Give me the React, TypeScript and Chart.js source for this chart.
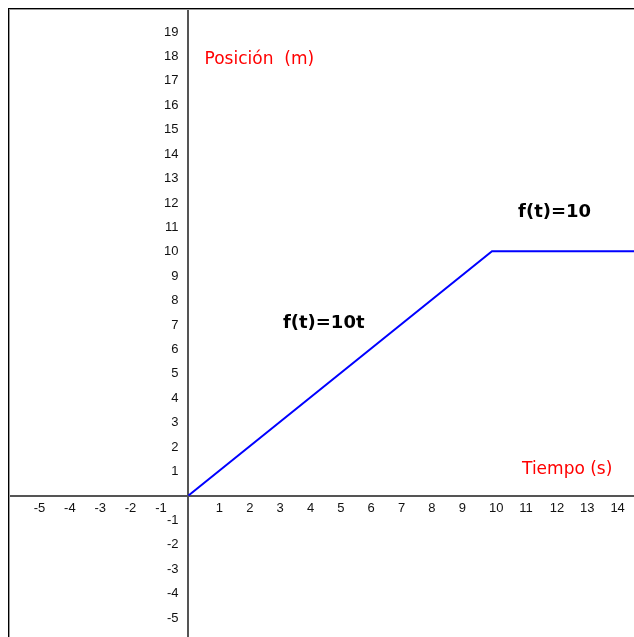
import React, { useEffect, useRef } from "react";
import { Chart, registerables } from "chart.js";

Chart.register(...registerables);

// Data
const tValues = [0, 10, 15];
const posValues = [0, 10, 10];
const xTickLabels = [-5, -4, -3, -2, -1, 1, 2, 3, 4, 5, 6, 7, 8, 9, 10, 11, 12, 13, 14];
const yTickLabels = [-5, -4, -3, -2, -1, 1, 2, 3, 4, 5, 6, 7, 8, 9, 10, 11, 12, 13, 14, 15, 16, 17, 18, 19];
const labelTexts = ["Posición  (m)", "Tiempo (s)", "f(t)=10t", "f(t)=10"];
const labelX = [0.53, 10.99, 3.11, 10.86];
const labelY = [17.67, 0.88, 7.06, 11.61];

const X_MIN = -5.947;
const X_MAX = 14.679;
const Y_MIN = -5.794;
const Y_MAX = 19.963;

const axesPlugin = {
  id: "geoAxes",
  beforeDatasetsDraw(chart: any) {
    const { ctx, scales, width, height } = chart;
    const xs = scales.x;
    const ys = scales.y;
    const x0 = xs.getPixelForValue(0);
    const y0 = ys.getPixelForValue(0);
    ctx.save();
    ctx.fillStyle = "#555555";
    ctx.fillRect(0, Math.round(y0) - 1, width, 2);
    ctx.fillRect(Math.round(x0) - 1, 0, 2, height);

    ctx.font = "13px 'Liberation Sans', Arial, sans-serif";
    ctx.fillStyle = "#111111";
    ctx.textBaseline = "middle";
    ctx.textAlign = "left";
    xTickLabels.forEach((v) => {
      const px = xs.getPixelForValue(v);
      ctx.fillText(String(v), px - 3, y0 + 12.5);
    });
    ctx.textAlign = "right";
    yTickLabels.forEach((v) => {
      const py = ys.getPixelForValue(v);
      ctx.fillText(String(v), x0 - 10, py + 0.5);
    });

    // text labels
    ctx.textAlign = "left";
    for (let i = 0; i < labelTexts.length; i++) {
      const px = xs.getPixelForValue(labelX[i]);
      const py = ys.getPixelForValue(labelY[i]);
      if (i < 2) {
        ctx.font = "17px 'DejaVu Sans', sans-serif";
        ctx.fillStyle = "#ff0000";
        ctx.textBaseline = "alphabetic";
      } else {
        ctx.font = "bold 18px 'DejaVu Sans', sans-serif";
        ctx.fillStyle = "#000000";
        ctx.textBaseline = "middle";
      }
      ctx.fillText(labelTexts[i], px, py);
    }
    ctx.restore();
  },
  afterDraw(chart: any) {
    const { ctx, width, height } = chart;
    ctx.save();
    ctx.fillStyle = "#000000";
    ctx.fillRect(0, 0, width, 1);
    ctx.fillRect(0, 0, 1, height);
    ctx.fillStyle = "#999999";
    ctx.fillRect(1, 1, width - 1, 1);
    ctx.fillRect(1, 1, 1, height - 1);
    ctx.restore();
  },
};

export default function App() {
  const canvasRef = useRef<HTMLCanvasElement | null>(null);

  useEffect(() => {
    if (!canvasRef.current) return;
    const chart = new Chart(canvasRef.current, {
      type: "line",
      data: {
        datasets: [
          {
            data: tValues.map((t, i) => ({ x: t, y: posValues[i] })),
            borderColor: "#0000ff",
            borderWidth: 2,
            pointRadius: 0,
            fill: false,
            tension: 0,
          },
        ],
      },
      options: {
        animation: false,
        responsive: false,
        maintainAspectRatio: false,
        layout: { padding: 0 },
        plugins: { legend: { display: false }, tooltip: { enabled: false } },
        scales: {
          x: { type: "linear", min: X_MIN, max: X_MAX, display: false },
          y: { type: "linear", min: Y_MIN, max: Y_MAX, display: false },
        },
      },
      plugins: [axesPlugin],
    });
    return () => chart.destroy();
  }, []);

  return (
    <div
      style={{
        position: "fixed",
        left: 8,
        top: 8,
        width: 626,
        height: 629,
        background: "#ffffff",
      }}
    >
      <canvas ref={canvasRef} width={626} height={629} style={{ display: "block" }} />
    </div>
  );
}
